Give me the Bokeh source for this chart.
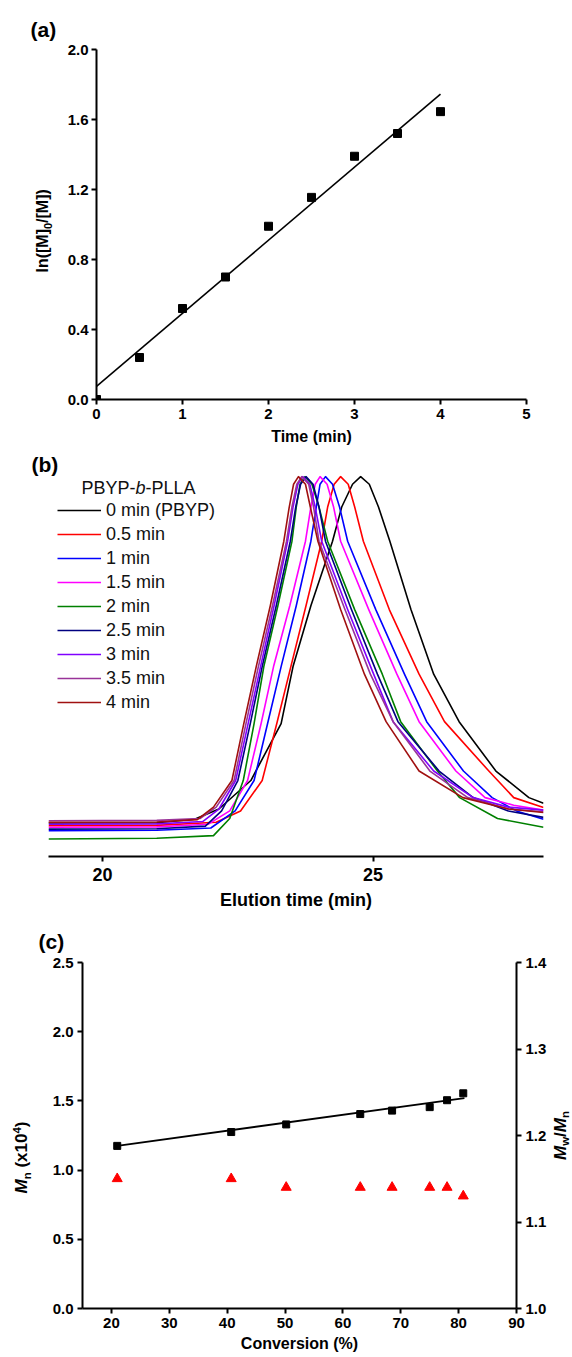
import math
from bokeh.plotting import figure
from bokeh.layouts import row
from bokeh.models import (Range1d, LinearAxis, FixedTicker, PrintfTickFormatter,
                          Label, Title)
from bokeh.embed import file_html
from bokeh.resources import INLINE

FONT = "Liberation Sans"

# ---------------- data: panel (a) ----------------
time_min = [0.0, 0.5, 1.0, 1.5, 2.0, 2.5, 3.0, 3.5, 4.0]
ln_ratio = [0.0, 0.24, 0.52, 0.70, 0.99, 1.155, 1.39, 1.52, 1.645]
fit_time = [0.0, 4.0]
fit_ln = [0.075, 1.745]
a_xticks = [0, 1, 2, 3, 4, 5]
a_yticks = [0.0, 0.4, 0.8, 1.2, 1.6, 2.0]

# ---------------- data: panel (b) GPC traces ----------------
b_labels = ["0 min (PBYP)", "0.5 min", "1 min", "1.5 min", "2 min",
            "2.5 min", "3 min", "3.5 min", "4 min"]
b_colors = ["#000000", "#ff0000", "#0000ff", "#ff00ff", "#008000",
            "#000080", "#8000ff", "#993399", "#a01010"]

t_0min = [19.0, 21.0, 21.7, 22.15, 22.74, 23.3, 23.52, 23.85, 24.25, 24.42, 24.62, 24.77, 24.93, 25.10, 25.31, 25.7, 26.12, 26.59, 27.27, 27.88, 28.15]
y_0min = [0.088, 0.089, 0.098, 0.125, 0.20, 0.35, 0.50, 0.66, 0.83, 0.92, 0.98, 1.0, 0.98, 0.92, 0.83, 0.65, 0.48, 0.355, 0.225, 0.155, 0.140]

t_05min = [19.0, 21.0, 22.1, 22.55, 22.95, 23.22, 23.48, 23.76, 24.05, 24.16, 24.28, 24.40, 24.54, 24.66, 24.82, 25.3, 25.85, 26.32, 27.14, 27.60, 28.15]
y_05min = [0.081, 0.082, 0.090, 0.12, 0.20, 0.35, 0.50, 0.66, 0.83, 0.92, 0.98, 1.0, 0.98, 0.92, 0.83, 0.65, 0.48, 0.355, 0.225, 0.155, 0.129]

t_1min = [19.0, 21.0, 22.0, 22.45, 22.80, 23.05, 23.30, 23.58, 23.85, 23.95, 24.02, 24.12, 24.25, 24.38, 24.53, 25.05, 25.58, 25.99, 26.67, 27.20, 27.65, 28.15]
y_1min = [0.068, 0.069, 0.075, 0.12, 0.20, 0.35, 0.50, 0.66, 0.83, 0.92, 0.98, 1.0, 0.98, 0.92, 0.83, 0.65, 0.48, 0.355, 0.225, 0.155, 0.12, 0.098]

t_15min = [19.0, 21.0, 21.95, 22.35, 22.68, 22.93, 23.16, 23.46, 23.75, 23.85, 23.93, 24.02, 24.15, 24.27, 24.40, 24.92, 25.44, 25.85, 26.53, 27.07, 27.6, 28.15]
y_15min = [0.077, 0.078, 0.085, 0.12, 0.20, 0.35, 0.50, 0.66, 0.83, 0.92, 0.98, 1.0, 0.98, 0.92, 0.83, 0.65, 0.48, 0.355, 0.225, 0.155, 0.135, 0.122]

t_2min = [19.0, 21.0, 22.05, 22.35, 22.60, 22.80, 22.98, 23.24, 23.50, 23.58, 23.65, 23.74, 23.87, 24.0, 24.16, 24.66, 25.17, 25.51, 26.19, 26.60, 27.3, 28.15]
y_2min = [0.046, 0.048, 0.055, 0.10, 0.20, 0.35, 0.50, 0.66, 0.83, 0.92, 0.98, 1.0, 0.98, 0.92, 0.83, 0.65, 0.48, 0.355, 0.225, 0.155, 0.10, 0.077]

t_25min = [19.0, 21.0, 21.9, 22.2, 22.50, 22.73, 22.95, 23.21, 23.47, 23.57, 23.66, 23.76, 23.89, 24.0, 24.12, 24.6, 25.08, 25.46, 26.22, 26.85, 27.5, 28.15]
y_25min = [0.072, 0.073, 0.080, 0.12, 0.20, 0.35, 0.50, 0.66, 0.83, 0.92, 0.98, 1.0, 0.98, 0.92, 0.83, 0.65, 0.48, 0.355, 0.225, 0.155, 0.12, 0.103]

t_3min = [19.0, 21.0, 21.85, 22.15, 22.46, 22.69, 22.92, 23.17, 23.42, 23.52, 23.61, 23.70, 23.83, 23.93, 24.05, 24.53, 25.01, 25.37, 26.12, 26.85, 27.5, 28.15]
y_3min = [0.085, 0.086, 0.092, 0.125, 0.20, 0.35, 0.50, 0.66, 0.83, 0.92, 0.98, 1.0, 0.98, 0.92, 0.83, 0.65, 0.48, 0.355, 0.225, 0.155, 0.13, 0.122]

t_35min = [19.0, 21.0, 21.8, 22.1, 22.43, 22.65, 22.88, 23.14, 23.40, 23.50, 23.59, 23.68, 23.81, 23.90, 24.00, 24.48, 24.95, 25.37, 26.05, 26.75, 27.5, 28.15]
y_35min = [0.094, 0.095, 0.100, 0.13, 0.20, 0.35, 0.50, 0.66, 0.83, 0.92, 0.98, 1.0, 0.98, 0.92, 0.83, 0.65, 0.48, 0.355, 0.225, 0.155, 0.125, 0.118]

t_4min = [19.0, 21.0, 21.75, 22.05, 22.39, 22.61, 22.84, 23.10, 23.35, 23.45, 23.53, 23.62, 23.75, 23.84, 23.98, 24.40, 24.84, 25.24, 25.85, 26.66, 27.5, 28.15]
y_4min = [0.090, 0.091, 0.097, 0.13, 0.20, 0.35, 0.50, 0.66, 0.83, 0.92, 0.98, 1.0, 0.98, 0.92, 0.83, 0.65, 0.48, 0.355, 0.225, 0.155, 0.125, 0.116]

b_t = [t_0min, t_05min, t_1min, t_15min, t_2min, t_25min, t_3min, t_35min, t_4min]
b_y = [y_0min, y_05min, y_1min, y_15min, y_2min, y_25min, y_3min, y_35min, y_4min]
b_xticks = [20, 25]

# ---------------- data: panel (c) ----------------
conversion = [21.0, 40.7, 50.2, 63.0, 68.5, 75.0, 78.0, 80.8]
mn_1e4 = [1.175, 1.275, 1.33, 1.405, 1.43, 1.455, 1.505, 1.555]
pdi = [1.15, 1.15, 1.14, 1.14, 1.14, 1.14, 1.14, 1.13]
fit_conv = [21.0, 81.0]
fit_mn = [1.175, 1.52]
c_xticks = [20, 30, 40, 50, 60, 70, 80, 90]
c_yticks = [0.0, 0.5, 1.0, 1.5, 2.0, 2.5]
c_y2ticks = [1.0, 1.1, 1.2, 1.3, 1.4]

UP = math.pi / 2


def style_axis(ax, size="15px", fmt=None, ticks=None, standoff=4):
    ax.axis_line_width = 2
    ax.axis_line_color = "black"
    ax.major_tick_line_width = 2
    ax.major_tick_line_color = "black"
    ax.major_tick_out = 5
    ax.major_tick_in = 0
    ax.minor_tick_line_color = None
    ax.major_label_text_font = FONT
    ax.major_label_text_font_style = "bold"
    ax.major_label_text_font_size = size
    ax.major_label_text_color = "black"
    ax.major_label_standoff = standoff
    if ticks is not None:
        ax.ticker = FixedTicker(ticks=ticks)
    if fmt is not None:
        ax.formatter = PrintfTickFormatter(format=fmt)


def axis_title(ax, text, size, standoff):
    ax.axis_label = text
    ax.axis_label_text_font = FONT
    ax.axis_label_text_font_style = "bold"
    ax.axis_label_text_font_size = size
    ax.axis_label_text_color = "black"
    ax.axis_label_standoff = standoff


def mkfig(w, h, xr, yr, l, r, t, b, axes=True):
    kw = {}
    if not axes:
        kw = dict(x_axis_location=None, y_axis_location=None)
    p = figure(width=w, height=h, x_range=Range1d(*xr), y_range=Range1d(*yr),
               output_backend="svg", toolbar_location=None,
               min_border_left=l, min_border_right=r,
               min_border_top=t, min_border_bottom=b, **kw)
    p.grid.visible = False
    p.outline_line_color = None
    p.background_fill_color = "white"
    p.border_fill_color = "white"
    return p


def panel_title(p, text, offset, standoff):
    p.add_layout(Title(text=text, align="left", offset=offset,
                       standoff=standoff, text_font=FONT,
                       text_font_size="21px", text_font_style="bold",
                       text_color="black"), "above")


def lbl(p, fl, fb, px, py, text, size, style="bold", angle=0.0,
        align="left", color="black"):
    # px, py: page pixels (top-left origin); fl: frame left, fb: frame bottom (page px)
    p.add_layout(Label(x=px - fl, y=fb - py, x_units="screen",
                       y_units="screen", text=text, text_font=FONT,
                       text_font_size=f"{size}px", text_font_style=style,
                       angle=angle, text_align=align, text_baseline="middle",
                       text_color=color))


# ================= panel (a) =================
LA_W = 64
la = mkfig(LA_W, 450, (0, 1), (0, 1), 0, 0, 49, 51, axes=False)
panel_title(la, "(a)", 30, 17)
lbl(la, 0, 399, 42, 272, "ln([M]", 16, angle=UP)
lbl(la, 0, 399, 47, 228.5, "0", 11, angle=UP)
lbl(la, 0, 399, 42, 222.4, "/[M])", 16, angle=UP)

pa = mkfig(572 - LA_W, 450, (0, 5), (0, 2.0), 94 - LA_W, 46, 49, 51)
style_axis(pa.xaxis[0], "15px", "%d", a_xticks)
style_axis(pa.yaxis[0], "15px", "%.1f", a_yticks, standoff=3)
axis_title(pa.xaxis[0], "Time (min)", "16px", 6)
pa.line(fit_time, fit_ln, line_color="black", line_width=1.6)
pa.scatter(time_min, ln_ratio, marker="square", size=8, color="black")
root_a = row(la, pa, spacing=0)

# ================= panel (b) =================
pb = mkfig(572, 465, (19.0, 28.15), (0, 1.003), 48, 29, 24, 59)
style_axis(pb.xaxis[0], "18px", "%d", b_xticks, standoff=6)
pb.yaxis.visible = False
axis_title(pb.xaxis[0], "Elution time (min)", "18px", 6)
panel_title(pb, "(b)", -17, 0)

for tt, yy, col, lab in zip(b_t, b_y, b_colors, b_labels):
    pb.line(tt, yy, line_color=col, line_width=1.6, line_join="round",
            legend_label=lab)

leg = pb.legend[0]
leg.location = (9, 142)
leg.label_text_font = FONT
leg.label_text_font_size = "18px"
leg.label_text_color = "#111111"
leg.glyph_width = 44
leg.glyph_height = 24
leg.label_height = 24
leg.label_standoff = 5
leg.spacing = 0
leg.padding = 0
leg.margin = 0
leg.border_line_color = None
leg.background_fill_alpha = 0

lbl(pb, 48, 856, 81, 487, "PBYP-", 18, style="normal", color="#111111")
lbl(pb, 48, 856, 135, 487, "b", 18, style="italic", color="#111111")
lbl(pb, 48, 856, 145, 487, "-PLLA", 18, style="normal", color="#111111")

# ================= panel (c) =================
LC_W, RC_W = 34, 22
lc = mkfig(LC_W, 442, (0, 1), (0, 1), 0, 0, 47, 49, axes=False)
# left title  M_n (x10^4)
lbl(lc, 0, 1308, 21, 1193, "M", 17, style="bold italic", angle=UP)
lbl(lc, 0, 1308, 26, 1178.8, "n", 11.5, angle=UP)
lbl(lc, 0, 1308, 21, 1167.1, "(x10", 17, angle=UP)
lbl(lc, 0, 1308, 16, 1133.1, "4", 11.5, angle=UP)
lbl(lc, 0, 1308, 21, 1126.7, ")", 17, angle=UP)

pc = mkfig(572 - LC_W - RC_W, 442, (15, 90), (0, 2.5), 82 - LC_W,
           572 - RC_W - 516, 47, 49)
style_axis(pc.xaxis[0], "15px", "%d", c_xticks)
style_axis(pc.yaxis[0], "15px", "%.1f", c_yticks)
axis_title(pc.xaxis[0], "Conversion (%)", "16px", 4)
pc.extra_y_ranges = {"pdi": Range1d(1.0, 1.4)}
ax2 = LinearAxis(y_range_name="pdi")
style_axis(ax2, "15px", "%.1f", c_y2ticks)
pc.add_layout(ax2, "right")
panel_title(pc, "(c)", -44, 20)

pc.line(fit_conv, fit_mn, line_color="black", line_width=2)
pc.scatter(conversion, mn_1e4, marker="square", size=7, color="black")
pc.scatter(conversion, pdi, marker="triangle", size=10, color="#ff0000",
           y_range_name="pdi")

rc = mkfig(RC_W, 442, (0, 1), (0, 1), 0, 0, 47, 49, axes=False)
RX0 = 572 - RC_W
rx = 560
lbl(rc, RX0, 1308, rx, 1159.5, "M", 17, style="bold italic", angle=UP)
lbl(rc, RX0, 1308, rx + 4.5, 1145.3, "w", 11.5, angle=UP)
lbl(rc, RX0, 1308, rx, 1136.4, "/", 17, angle=UP)
lbl(rc, RX0, 1308, rx, 1131.7, "M", 17, style="bold italic", angle=UP)
lbl(rc, RX0, 1308, rx + 4.5, 1117.5, "n", 11.5, angle=UP)
root_c = row(lc, pc, rc, spacing=0)

open("out.html", "w").write(file_html([root_a, pb, root_c], INLINE))
